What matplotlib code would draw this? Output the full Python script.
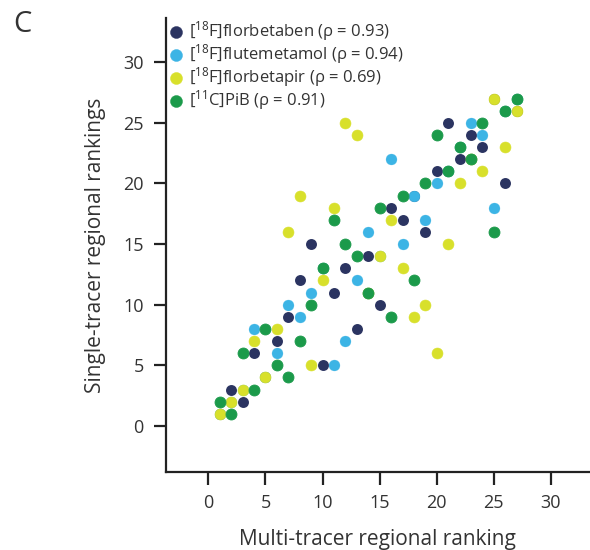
import matplotlib.pyplot as plt

plt.rcParams['font.family'] = ['Open Sans', 'DejaVu Sans']
plt.rcParams['mathtext.fontset'] = 'custom'
plt.rcParams['mathtext.rm'] = 'Open Sans'

# multi-tracer ranking (x) vs single-tracer ranking (y), one array per tracer
multi_rank = list(range(1, 28))
fbb_rank = [1, 3, 2, 6, 4, 7, 9, 12, 15, 5, 11, 13, 8, 14, 10, 18, 17, 19, 16, 21, 25, 22, 24, 23, 27, 20, 26]
flute_rank = [1, 2, 3, 8, 4, 6, 10, 9, 11, 13, 5, 7, 12, 16, 14, 22, 15, 19, 17, 20, 21, 23, 25, 24, 18, 26, 27]
fbp_rank = [1, 2, 3, 7, 4, 8, 16, 19, 5, 12, 18, 25, 24, 11, 14, 17, 13, 9, 10, 6, 15, 20, 22, 21, 27, 23, 26]
pib_rank = [2, 1, 6, 3, 8, 5, 4, 7, 10, 13, 17, 15, 14, 11, 18, 9, 19, 12, 20, 24, 21, 23, 22, 25, 16, 26, 27]

labels = [r'[$\mathregular{^{18}}$F]florbetaben (ρ = 0.93)',
          r'[$\mathregular{^{18}}$F]flutemetamol (ρ = 0.94)',
          r'[$\mathregular{^{18}}$F]florbetapir (ρ = 0.69)',
          r'[$\mathregular{^{11}}$C]PiB (ρ = 0.91)']
colors = ['#2b3461', '#3cb4e5', '#d8e02b', '#1b9a4a']
ticks = [0, 5, 10, 15, 20, 25, 30]


def main():
    fig = plt.figure(figsize=(5.9, 5.5), dpi=100)
    ax = fig.add_axes([0.281, 0.1424, 0.719, 0.8249])

    for i, (ys, color, label) in enumerate(zip([fbb_rank, flute_rank, fbp_rank, pib_rank], colors, labels)):
        # later series get a slightly wider rim so that coincident points underneath don't leave a dark halo
        ax.scatter(multi_rank, ys, s=62, color=color, edgecolors=color, linewidths=0.02 + 0.2 * i,
                   label=label, zorder=3)

    ax.set_xlim(-3.73, 33.42)
    ax.set_ylim(-3.77, 33.65)
    ax.set_xticks(ticks)
    ax.set_yticks(ticks)
    for side in ['top', 'right']:
        ax.spines[side].set_visible(False)
    for side in ['left', 'bottom']:
        ax.spines[side].set_linewidth(1.6)
        ax.spines[side].set_color('#222222')
    ax.tick_params(length=9, width=1.6, color='#222222', labelsize=13, labelcolor='#333333', pad=7)

    ax.set_xlabel('Multi-tracer regional ranking', fontsize=15, color='#333333', labelpad=12)
    ax.set_ylabel('Single-tracer regional rankings', fontsize=15, color='#333333', labelpad=12)

    leg = ax.legend(loc='upper left', bbox_to_anchor=(-0.023, 1.023), frameon=False, fontsize=12,
                    handlelength=1.0, handletextpad=0.25, labelspacing=-0.05, borderpad=0.2,
                    markerscale=1.1, labelcolor='#333333')
    for h in leg.legend_handles:
        h.set_linewidth(0.3)

    fig.text(0.022, 0.955, 'C', fontsize=21, color='#333333', va='center')

    plt.savefig('out.png', dpi=100)


if __name__ == '__main__':
    main()
